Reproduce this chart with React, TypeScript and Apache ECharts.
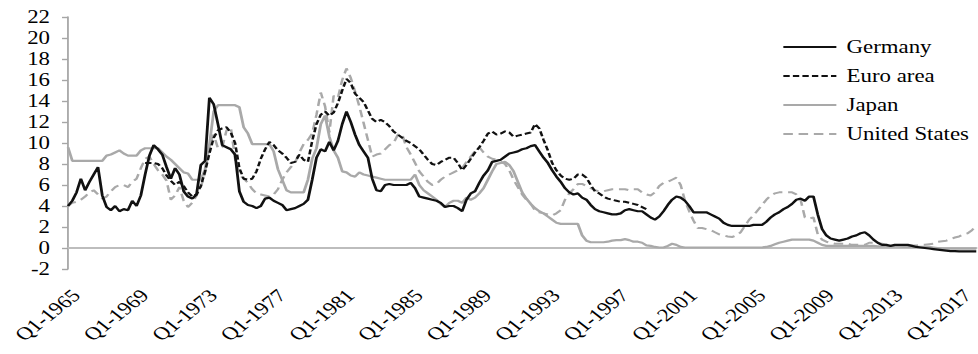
import React, { useEffect, useRef } from "react";
import * as echarts from "echarts";

// Quarterly short-term interest rates, Q1-1965 onward (per cent)
const firstYear = 1965;
const quarterCount = 213;
const quarters: string[] = [];
for (let k = 0; k < quarterCount; k++) {
  quarters.push(`Q${(k % 4) + 1}-${firstYear + Math.floor(k / 4)}`);
}

const germany = [
  4.0, 4.5, 5.3, 6.6, 5.5, 6.3, 7.0, 7.7, 5.0, 3.9,
  3.6, 4.0, 3.5, 3.7, 3.6, 4.5, 4.0, 5.0, 7.0, 8.8,
  9.8, 9.4, 8.9, 7.7, 6.6, 7.6, 7.0, 5.4, 4.9, 4.7,
  5.1, 7.9, 8.3, 14.3, 13.7, 11.8, 9.8, 9.6, 9.4, 8.9,
  5.4, 4.4, 4.1, 4.0, 3.8, 4.0, 4.7, 4.8, 4.5, 4.3,
  4.1, 3.6, 3.7, 3.8, 4.0, 4.2, 4.6, 6.5, 8.6, 9.4,
  9.2, 10.1, 9.3, 10.2, 11.8, 13.0, 12.0, 10.8, 9.8, 9.2,
  8.6, 6.6, 5.5, 5.4, 6.0, 6.1, 6.0, 6.0, 6.0, 6.0,
  6.2, 5.7, 4.9, 4.8, 4.7, 4.6, 4.5, 4.3, 3.9, 4.0,
  4.0, 3.8, 3.5, 4.6, 5.2, 5.4, 6.2, 6.9, 7.4, 8.2,
  8.3, 8.4, 8.7, 9.0, 9.1, 9.2, 9.4, 9.5, 9.7, 9.8,
  9.2, 8.6, 8.1, 7.4, 6.8, 6.3, 5.7, 5.3, 5.1, 5.2,
  4.8, 4.6, 4.1, 3.7, 3.5, 3.4, 3.3, 3.2, 3.2, 3.3,
  3.6, 3.7, 3.6, 3.5, 3.5, 3.2, 2.9, 2.7, 3.0, 3.5,
  4.1, 4.6, 4.9, 4.8, 4.5, 4.0, 3.4, 3.4, 3.4, 3.4,
  3.2, 3.0, 2.8, 2.4, 2.2, 2.1, 2.1, 2.1, 2.1, 2.1,
  2.2, 2.2, 2.2, 2.5, 2.9, 3.2, 3.4, 3.7, 3.9, 4.2,
  4.6, 4.7, 4.5, 4.9, 4.9, 3.2, 1.8, 1.2, 0.9, 0.8,
  0.7, 0.8, 0.9, 1.1, 1.2, 1.4, 1.5, 1.2, 0.8, 0.5,
  0.3, 0.3, 0.2, 0.3, 0.3, 0.3, 0.3, 0.2, 0.1, 0.05,
  0.0, -0.05, -0.1, -0.15, -0.2, -0.25, -0.3, -0.3, -0.33, -0.33,
  -0.33, -0.33, -0.33,
];

// Euro area aggregate runs from Q3-1969 to Q4-1998
const euroAreaStart = 18;
const euroArea = [
  8.1, 8.1, 8.1, 8.0, 7.6, 6.9, 6.4, 6.0, 6.3, 5.9,
  5.3, 4.9, 5.1, 5.9, 7.3, 9.0, 10.5, 11.2, 11.4, 11.5,
  11.0, 10.0, 7.6, 6.6, 6.5, 6.6, 7.3, 8.5, 9.4, 10.1,
  9.8, 9.3, 9.0, 8.6, 8.1, 8.2, 8.9, 8.4, 8.2, 10.2,
  11.8, 12.7, 13.0, 12.6, 12.9, 13.8, 15.0, 16.1, 15.7, 14.7,
  14.3, 13.9, 13.1, 12.3, 12.0, 12.2, 12.0, 11.6, 11.1, 10.8,
  10.5, 10.2, 10.0, 9.7, 9.4, 8.9, 8.4, 8.0, 7.9, 8.2,
  8.4, 8.6, 8.6, 8.1, 7.4, 7.9, 8.5, 9.1, 9.6, 10.2,
  10.9, 11.1, 10.8, 10.9, 11.1, 11.0, 10.6, 10.7, 10.8, 10.9,
  11.0, 11.8, 11.4, 10.3, 9.3, 8.1, 7.4, 6.9, 6.6, 6.5,
  6.6, 7.0, 7.0, 6.7, 6.0, 5.4, 5.2, 4.9, 4.7, 4.6,
  4.5, 4.4, 4.4, 4.3, 4.2, 4.1, 3.9, 3.7,
];

const japan = [
  9.6, 8.3, 8.3, 8.3, 8.3, 8.3, 8.3, 8.3, 8.3, 8.8,
  8.9, 9.1, 9.3, 9.0, 8.8, 8.8, 8.8, 9.3, 9.5, 9.5,
  9.5, 9.5, 9.1, 8.7, 8.4, 8.0, 7.6, 7.2, 7.1, 6.5,
  6.5, 6.5, 7.5, 9.8, 13.0, 13.6, 13.6, 13.6, 13.6, 13.6,
  13.4, 11.5, 10.9, 9.9, 9.9, 9.9, 9.9, 9.9, 9.2, 7.5,
  6.5, 5.5, 5.3, 5.3, 5.3, 5.3, 6.5, 8.5, 9.5, 11.8,
  12.6, 10.6, 9.3, 8.6, 7.3, 7.2, 6.9, 6.8, 7.2, 7.0,
  6.9, 6.8, 6.7, 6.6, 6.5, 6.5, 6.5, 6.5, 6.5, 6.5,
  6.5, 7.0, 6.0, 5.5, 5.2, 4.9, 4.6, 4.2, 3.9, 4.3,
  4.5, 4.5, 4.3, 4.8, 4.6, 4.8, 5.2, 5.7, 6.5, 7.3,
  8.0, 8.1, 8.2, 7.9, 7.3, 6.3, 5.3, 4.7, 4.2, 3.8,
  3.5, 3.3, 3.0, 2.7, 2.4, 2.3, 2.3, 2.3, 2.3, 2.3,
  1.2, 0.7, 0.55, 0.55, 0.55, 0.55, 0.6, 0.7, 0.75, 0.75,
  0.85, 0.75, 0.6, 0.6, 0.5, 0.25, 0.2, 0.1, 0.05, 0.05,
  0.2, 0.4, 0.3, 0.1, 0.05, 0.05, 0.05, 0.05, 0.05, 0.05,
  0.05, 0.05, 0.05, 0.05, 0.05, 0.05, 0.05, 0.05, 0.05, 0.05,
  0.05, 0.05, 0.05, 0.1, 0.2, 0.35, 0.5, 0.6, 0.7, 0.8,
  0.8, 0.8, 0.8, 0.8, 0.7, 0.5, 0.3, 0.2, 0.2, 0.2,
  0.2, 0.2, 0.2, 0.2, 0.2, 0.2, 0.2, 0.2, 0.2, 0.15,
  0.15, 0.15, 0.15, 0.15, 0.15, 0.1, 0.1, 0.1, 0.1, 0.1,
  0.1, 0.1, 0.05, 0.0, -0.05, -0.05, -0.05, -0.05, -0.05, -0.05,
  -0.05, -0.05, -0.05,
];

const unitedStates = [
  4.0, 4.3, 4.4, 4.6, 4.9, 5.3, 5.5, 5.1, 4.7, 4.9,
  5.4, 5.8, 6.0, 6.0, 5.8, 6.3, 6.6, 7.6, 8.5, 8.7,
  8.0, 7.4, 7.0, 6.4, 4.6, 5.0, 5.8, 4.5, 3.9, 4.3,
  5.0, 5.8, 7.2, 9.8, 10.8, 9.5, 9.6, 11.2, 11.5, 8.5,
  7.0, 6.6, 6.2, 5.6, 5.2, 5.1, 5.0, 4.9, 5.1, 5.6,
  6.5, 7.2, 7.7, 8.1, 9.1, 9.9, 10.3, 10.9, 12.7, 14.8,
  13.5, 11.0, 14.5, 14.3, 16.0, 17.1, 16.2, 14.9, 13.5, 11.9,
  10.3, 8.7, 8.9, 9.0, 9.4, 9.8, 10.0, 10.8, 10.8, 9.6,
  8.9, 8.1, 7.3, 6.8, 6.3, 6.0, 6.1, 6.5, 6.8, 7.0,
  7.2, 7.4, 7.6, 8.2, 8.7, 9.2, 9.6, 9.1, 8.7, 8.5,
  8.4, 8.2, 8.0, 7.4, 6.5, 5.8, 5.1, 4.6, 4.2, 3.6,
  3.4, 3.3, 3.2, 3.1, 3.3, 3.6, 4.6, 5.2, 5.6, 6.1,
  6.1, 5.9, 5.7, 5.5, 5.4, 5.4, 5.5, 5.6, 5.6, 5.6,
  5.6, 5.5, 5.6, 5.6, 5.3, 5.1, 5.0, 5.3, 5.9, 6.2,
  6.3, 6.5, 6.7, 6.0, 4.5, 3.5, 2.6, 1.9, 1.9, 1.8,
  1.7, 1.5, 1.3, 1.2, 1.1, 1.05, 1.2, 1.5, 2.1, 2.7,
  3.1, 3.6, 4.1, 4.6, 5.0, 5.2, 5.3, 5.3, 5.3, 5.3,
  5.1, 4.6, 2.9, 2.8, 2.9, 1.3, 0.8, 0.6, 0.5, 0.4,
  0.4, 0.4, 0.4, 0.3, 0.3, 0.3, 0.3, 0.5, 0.5, 0.45,
  0.4, 0.3, 0.25, 0.25, 0.25, 0.25, 0.25, 0.25, 0.25, 0.3,
  0.3, 0.35, 0.4, 0.6, 0.65, 0.7, 0.85, 1.0, 1.1, 1.3,
  1.4, 1.7, 2.1,
];

const yMin = -2;
const yMax = 22;
const yStep = 2;

const FONT = "Liberation Serif";
const BLACK = "#111111";
const GREY = "#a9a9a9";

// The chart is laid out at a narrower width and widened horizontally,
// which gives the broad serif lettering and flattened label slant.
const OUT_W = 978;
const OUT_H = 354;
const STRETCH = 1.27;
const IN_W = Math.round(OUT_W / STRETCH);
const sx = (px: number) => px / STRETCH;

function padSeries(values: number[], start: number): (number | null)[] {
  const out: (number | null)[] = [];
  for (let k = 0; k < quarters.length; k++) {
    const j = k - start;
    out.push(j >= 0 && j < values.length ? values[j] : null);
  }
  return out;
}

export default function App() {
  const ref = useRef<HTMLDivElement>(null);

  useEffect(() => {
    if (!ref.current) return;
    const chart = echarts.init(ref.current, undefined, { renderer: "svg" });
    chart.setOption({
      animation: false,
      backgroundColor: "#ffffff",
      textStyle: { fontFamily: FONT },
      grid: { left: sx(68), right: 0, top: 17, bottom: 85, containLabel: false },
      legend: {
        orient: "vertical",
        left: sx(782),
        top: 38,
        itemWidth: sx(53),
        itemHeight: 14,
        itemGap: 11,
        padding: 0,
        itemStyle: { opacity: 0 },
        textStyle: {
          fontFamily: FONT,
          fontSize: 18,
          lineHeight: 18,
          color: "#000",
          padding: [0, 0, 0, 3],
        },
        data: ["Germany", "Euro area", "Japan", "United States"],
      },
      xAxis: [
        {
          type: "category",
          data: quarters,
          boundaryGap: false,
          position: "bottom",
          axisLine: { show: false, onZero: false },
          axisTick: { show: false },
          axisLabel: {
            interval: 15,
            rotate: 45,
            margin: 17,
            align: "right",
            verticalAlign: "top",
            fontFamily: FONT,
            fontSize: 18,
            color: "#000",
          },
          splitLine: { show: false },
        },
        {
          type: "category",
          data: quarters,
          boundaryGap: false,
          position: "bottom",
          axisLine: { show: true, onZero: true, lineStyle: { color: "#bdbdbd", width: 2 } },
          axisTick: { show: false },
          axisLabel: { show: false },
          splitLine: { show: false },
        },
      ],
      yAxis: {
        type: "value",
        min: yMin,
        max: yMax,
        interval: yStep,
        axisLine: { show: true, lineStyle: { color: "#a6a6a6", width: 1.4 } },
        axisTick: { show: true, length: sx(6), lineStyle: { color: "#a6a6a6", width: 1.4 } },
        axisLabel: { margin: sx(18), fontFamily: FONT, fontSize: 18, color: "#000" },
        splitLine: { show: false },
      },
      series: [
        {
          name: "Japan",
          type: "line",
          data: padSeries(japan, 0),
          symbol: "none",
          z: 3,
          lineStyle: { color: GREY, width: 2.2 },
          itemStyle: { color: GREY },
        },
        {
          name: "United States",
          type: "line",
          data: padSeries(unitedStates, 0),
          symbol: "none",
          z: 3,
          lineStyle: { color: GREY, width: 2, type: [7.5, 4.5] },
          itemStyle: { color: GREY },
        },
        {
          name: "Euro area",
          type: "line",
          data: padSeries(euroArea, euroAreaStart),
          symbol: "none",
          z: 4,
          lineStyle: { color: BLACK, width: 2, type: [5, 2.5] },
          itemStyle: { color: BLACK },
        },
        {
          name: "Germany",
          type: "line",
          data: padSeries(germany, 0),
          symbol: "none",
          z: 5,
          lineStyle: { color: BLACK, width: 2.2 },
          itemStyle: { color: BLACK },
        },
      ],
    });
    return () => chart.dispose();
  }, []);

  return (
    <div
      style={{
        position: "fixed",
        left: 0,
        top: 0,
        width: OUT_W,
        height: OUT_H,
        overflow: "hidden",
        background: "#fff",
      }}
    >
      <div
        ref={ref}
        style={{
          width: IN_W,
          height: OUT_H,
          transform: `scaleX(${OUT_W / IN_W})`,
          transformOrigin: "0 0",
        }}
      />
    </div>
  );
}
